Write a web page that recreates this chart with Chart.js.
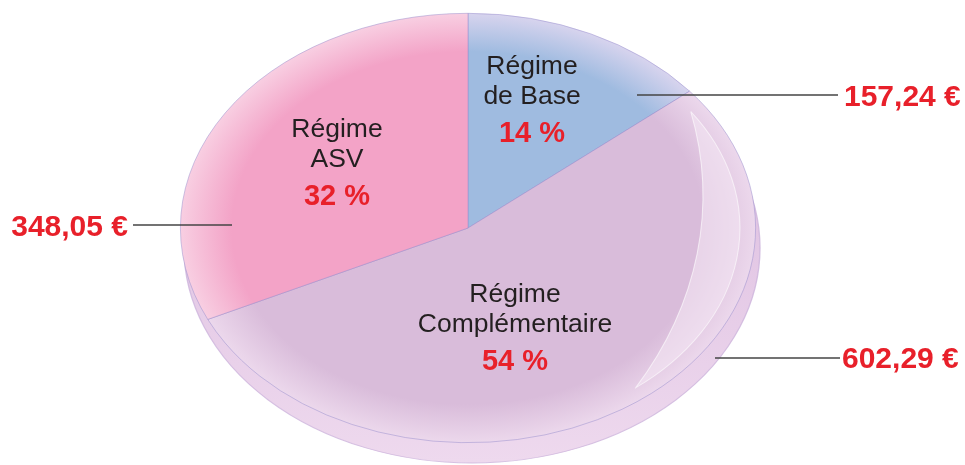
<!DOCTYPE html>
<html>
<head>
<meta charset="utf-8">
<script src="https://cdn.jsdelivr.net/npm/chart.js@4/dist/chart.umd.min.js"></script>
<style>
  html, body { margin: 0; padding: 0; background: #fff; }
  #wrap { width: 965px; height: 465px; position: relative; }
</style>
</head>
<body>
<div id="wrap"><canvas id="pie" width="965" height="465"></canvas></div>
<script>
const categories = [["Régime", "de Base"], ["Régime", "Complémentaire"], ["Régime", "ASV"]];
const percents = [14, 54, 32];
const amounts = ["157,24 €", "602,29 €", "348,05 €"];
const colors = ["#9fbbe0", "#d9bcda", "#f3a3c7"];
const rimColors = ["#d8d4ee", "#ecd8ec", "#f8cfe2"];

// where the texts and leader lines sit (pixels)
const labelPos = [[532, 97], [515, 325], [337, 160]];
const amountPos = [[844, 98, "left"], [842, 360, "left"], [128, 228, "right"]];
const leaders = [[637, 95, 838, 95], [715, 358, 840, 358], [133, 225, 232, 225]];

const pieEl = document.querySelector("#pie");
const squash = 288 / 215; // the disc is wider than tall
const deg = Math.PI / 180;

function arcGradient(ctx) {
  const chart = ctx.chart;
  const area = chart.chartArea;
  if (!area) return colors[ctx.dataIndex];
  const cx = (area.left + area.right) / 2;
  const cy = (area.top + area.bottom) / 2;
  const r = Math.min(area.width, area.height) / 2;
  const g = chart.ctx.createRadialGradient(cx, cy, 0, cx, cy, r);
  g.addColorStop(0, colors[ctx.dataIndex]);
  g.addColorStop(0.82, colors[ctx.dataIndex]);
  g.addColorStop(1, rimColors[ctx.dataIndex]);
  return g;
}

const ellipsePlugin = {
  id: "ellipse",
  beforeDatasetsDraw(chart) {
    const c = chart.ctx;
    const area = chart.chartArea;
    const cx = (area.left + area.right) / 2;
    const cy = (area.top + area.bottom) / 2;
    const r = Math.min(area.width, area.height) / 2;
    c.save();
    c.translate(cx, cy);
    c.scale(squash, 1);
    c.translate(-cx, -cy);
    // side of the disc, a little below the top face
    const side = c.createLinearGradient(0, cy, 0, cy + r + 20);
    side.addColorStop(0, "#e2c6e4");
    side.addColorStop(1, "#eed9ee");
    c.beginPath();
    c.arc(cx + 3, cy + 20, r, 0, Math.PI * 2);
    c.fillStyle = side;
    c.fill();
    c.strokeStyle = "rgba(205,180,220,0.8)";
    c.lineWidth = 1;
    c.stroke();
  },
  afterDatasetsDraw(chart) {
    const c = chart.ctx;
    const area = chart.chartArea;
    const cx = (area.left + area.right) / 2;
    const cy = (area.top + area.bottom) / 2;
    // thin glossy crescent on the right, pointed at both ends
    c.beginPath();
    c.arc(cx, cy, 203, -35 * deg, 52 * deg);
    c.arc(cx - 217.4, cy - 32.45, 392.8, 29.34 * deg, -12.34 * deg, true);
    c.closePath();
    c.fillStyle = "rgba(244,230,244,0.6)";
    c.fill();
    c.strokeStyle = "rgba(255,255,255,0.6)";
    c.lineWidth = 0.8;
    c.stroke();
    c.restore();
  },
  afterDraw(chart) {
    const c = chart.ctx;
    c.save();
    c.strokeStyle = "#454545";
    c.lineWidth = 1.6;
    leaders.forEach((l) => {
      c.beginPath();
      c.moveTo(l[0], l[1]);
      c.lineTo(l[2], l[3]);
      c.stroke();
    });
    c.textBaseline = "middle";
    categories.forEach((lines, i) => {
      const [x, y] = labelPos[i];
      c.textAlign = "center";
      c.fillStyle = "#231f20";
      c.font = "26.5px 'Liberation Sans', Arial, sans-serif";
      c.fillText(lines[0], x, y - 30);
      c.fillText(lines[1], x, y);
      c.fillStyle = "#e8202a";
      c.font = "bold 29px 'Liberation Sans', Arial, sans-serif";
      c.fillText(percents[i] + " %", x, y + 37);
    });
    amounts.forEach((txt, i) => {
      const [x, y, align] = amountPos[i];
      c.textAlign = align;
      c.fillStyle = "#e8202a";
      c.font = "bold 30px 'Liberation Sans', Arial, sans-serif";
      c.fillText(txt, x, y);
    });
    c.restore();
  },
};

new Chart(pieEl, {
  type: "pie",
  data: {
    labels: categories.map((l) => l.join(" ")),
    datasets: [
      {
        data: percents,
        backgroundColor: arcGradient,
        borderColor: "rgba(150,140,205,0.7)",
        borderWidth: 0.6,
      },
    ],
  },
  options: {
    responsive: false,
    animation: false,
    events: [],
    layout: { padding: { top: 13, bottom: 22, left: 0, right: 29 } },
    plugins: {
      legend: { display: false },
      tooltip: { enabled: false },
    },
  },
  plugins: [ellipsePlugin],
});
</script>
</body>
</html>
